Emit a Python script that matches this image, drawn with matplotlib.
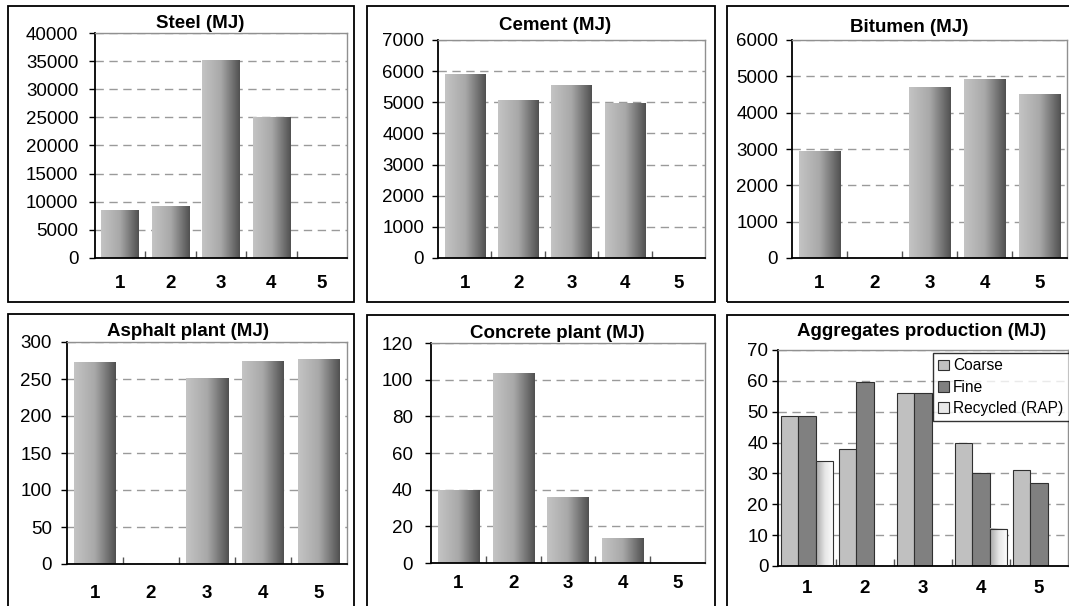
import matplotlib
matplotlib.use('Agg')
import matplotlib.pyplot as plt
import numpy as np
from matplotlib.patches import Rectangle
from matplotlib.colors import LinearSegmentedColormap

plt.rcParams['font.family'] = ['Liberation Sans', 'DejaVu Sans']

categories = ['1', '2', '3', '4', '5']
steel = [8400, 9150, 35100, 25000, 0]
cement = [5900, 5050, 5550, 4950, 0]
bitumen = [2920, 0, 4700, 4900, 4490]
asphalt = [272, 0, 251, 274, 276]
concrete = [39.3, 103.6, 35.5, 13.4, 0]
agg_coarse = [48.6, 38, 56, 40, 31]
agg_fine = [48.6, 59.5, 56, 30, 27]
agg_recycled = [34, 0, 0, 12, 0]
agg_labels = ['Coarse', 'Fine', 'Recycled (RAP)']

W, H = 1069, 606
fig = plt.figure(figsize=(W / 100, H / 100), dpi=100)

gray_cmap = LinearSegmentedColormap.from_list('g', ['#c4c4c4', '#a8a8a8', '#505050'])
rap_cmap = LinearSegmentedColormap.from_list('r', ['#a8a8a8', '#e6e6e6', '#ffffff'])
grad = np.linspace(0, 1, 256).reshape(1, -1)


def px_axes(l, r, t, b):
    return fig.add_axes([l / W, 1 - b / H, (r - l) / W, (b - t) / H])


def panel(l, r, t, b):
    fig.add_artist(Rectangle((l / W, 1 - b / H), (r - l) / W, (b - t) / H,
                             transform=fig.transFigure, fill=False,
                             ec='black', lw=1.3, clip_on=False))


def title(cx, cy, text):
    fig.text(cx / W, 1 - cy / H, text, ha='center', va='center',
             fontweight='bold', fontsize=13.5)


def gradient_bars(ax, bars, cmap):
    for b in bars:
        x, y = b.get_x(), b.get_y()
        w, h = b.get_width(), b.get_height()
        if h <= 0:
            continue
        ax.imshow(grad, extent=[x, x + w, y, y + h], aspect='auto',
                  cmap=cmap, zorder=2, interpolation='bilinear')


def style(ax, ymax, ystep, ypad, xpad):
    ax.set_xlim(0.5, 5.5)
    ax.set_ylim(0, ymax)
    ax.set_yticks(np.arange(0, ymax + 1e-9, ystep))
    ax.set_xticks(range(1, 6))
    ax.set_xticklabels(categories, fontweight='bold', fontsize=13.5)
    ax.set_xticks([1.5, 2.5, 3.5, 4.5], minor=True)
    ax.tick_params(axis='x', which='major', length=0, pad=xpad)
    ax.tick_params(axis='x', which='minor', length=5, direction='in',
                   color='#555555', width=1)
    ax.tick_params(axis='y', length=4, direction='out', labelsize=13.5,
                   pad=ypad, width=1)
    for s in ['left', 'bottom']:
        ax.spines[s].set_color('black')
        ax.spines[s].set_linewidth(1.3)
    for s in ['top', 'right']:
        ax.spines[s].set_color('#909090')
        ax.spines[s].set_linewidth(1.0)
    ax.yaxis.grid(True, color='#9a9a9a', linestyle=(0, (6, 4)), linewidth=1)
    ax.set_axisbelow(True)


def simple(ax, values, ymax, ystep, ypad, xpad):
    bars = ax.bar(range(1, 6), values, width=0.75, color='none', zorder=2)
    gradient_bars(ax, bars, gray_cmap)
    style(ax, ymax, ystep, ypad, xpad)


# panel frames
panel(8, 354, 6, 302)
panel(367, 715, 6, 302)
panel(727, 1085, 6, 302)
panel(8, 354, 314, 620)
panel(367, 715, 315, 620)
panel(727, 1085, 315, 620)

ax1 = px_axes(95, 347, 33, 258)
simple(ax1, steel, 40000, 5000, 8, 12)
title(200, 23, 'Steel (MJ)')

ax2 = px_axes(438, 705, 40, 258)
simple(ax2, cement, 7000, 1000, 6, 12)
title(555, 25, 'Cement (MJ)')

ax3 = px_axes(792, 1067, 40, 258)
simple(ax3, bitumen, 6000, 1000, 6, 12)
title(909, 27, 'Bitumen (MJ)')

ax4 = px_axes(67, 347, 342, 564)
simple(ax4, asphalt, 300, 50, 7, 15)
title(188, 332, 'Asphalt plant (MJ)')

ax5 = px_axes(431, 705, 343, 563)
simple(ax5, concrete, 120, 20, 9, 9)
title(557, 333, 'Concrete plant (MJ)')

ax6 = px_axes(778, 1068, 350, 566)
x = np.arange(1, 6)
bw = 0.3
ax6.bar(x - bw, agg_coarse, width=bw, color='#c0c0c0', edgecolor='#303030',
        linewidth=0.8, zorder=2, label=agg_labels[0])
ax6.bar(x, agg_fine, width=bw, color='#808080', edgecolor='#303030',
        linewidth=0.8, zorder=2, label=agg_labels[1])
rb = ax6.bar(x + bw, agg_recycled, width=bw, color='none', edgecolor='#303030',
             linewidth=0.8, zorder=3)
gradient_bars(ax6, rb, rap_cmap)
style(ax6, 70, 10, 3, 10)
handles, labels = ax6.get_legend_handles_labels()
handles.append(Rectangle((0, 0), 1, 1, facecolor='#e8e8e8', edgecolor='#303030', linewidth=0.8))
labels.append(agg_labels[2])
leg = ax6.legend(handles, labels, loc='upper left',
                 bbox_to_anchor=(933 / W, 1 - 353 / H),
                 bbox_transform=fig.transFigure, frameon=True, fancybox=False,
                 edgecolor='black', fontsize=11.2, handlelength=0.7,
                 handleheight=0.7, handletextpad=0.25, borderpad=0.35,
                 labelspacing=0.4, borderaxespad=0)
leg.get_frame().set_linewidth(1.0)
leg.set_zorder(5)
title(922, 332, 'Aggregates production (MJ)')

fig.savefig('out.png', dpi=100)
